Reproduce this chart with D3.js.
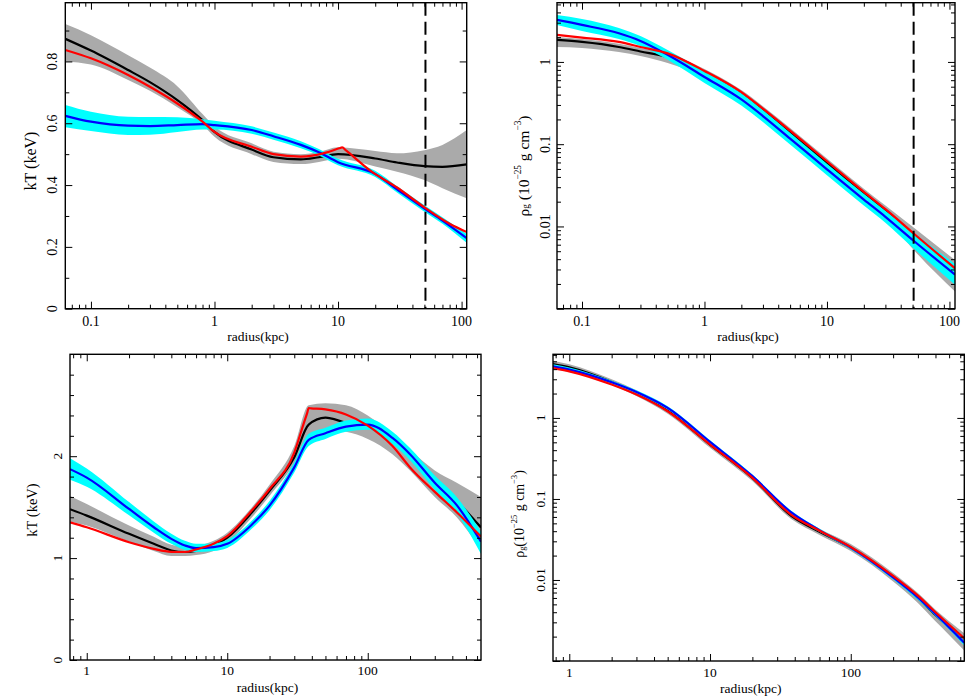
<!DOCTYPE html>
<html>
<head>
<meta charset="utf-8">
<script src="https://cdn.jsdelivr.net/npm/d3@7"></script>
<style>
  body { margin: 0; background: #fff; }
  svg, text { font-family: "Liberation Serif", "Times New Roman", "DejaVu Serif", serif; }
</style>
</head>
<body>
<svg id="chart" width="969" height="696"></svg>
<script>
const FONT = '"Liberation Serif", "Times New Roman", "DejaVu Serif", serif';

// ---- top left: kT vs radius ----
const tlR = [0.062, 0.1, 0.2, 0.3, 0.5, 0.8, 1, 2, 3, 5, 7, 10, 20, 30, 50, 70, 110];
const tlBlack = [0.873, 0.835, 0.772, 0.733, 0.675, 0.61, 0.572, 0.515, 0.49, 0.483, 0.49, 0.50, 0.486, 0.473, 0.461, 0.459, 0.467];
const tlBlackLo = [0.799, 0.79, 0.74, 0.705, 0.652, 0.595, 0.556, 0.50, 0.475, 0.468, 0.475, 0.485, 0.46, 0.443, 0.416, 0.39, 0.357];
const tlBlackHi = [0.921, 0.885, 0.82, 0.78, 0.72, 0.63, 0.59, 0.535, 0.508, 0.50, 0.507, 0.522, 0.51, 0.503, 0.513, 0.53, 0.578];
const tlBlue = [0.624, 0.605, 0.592, 0.591, 0.594, 0.597, 0.594, 0.578, 0.558, 0.53, 0.506, 0.474, 0.436, 0.386, 0.324, 0.285, 0.228];
const tlBlueLo = [0.587, 0.575, 0.562, 0.563, 0.572, 0.58, 0.58, 0.566, 0.547, 0.519, 0.496, 0.464, 0.426, 0.376, 0.314, 0.275, 0.213];
const tlBlueHi = [0.659, 0.637, 0.621, 0.62, 0.619, 0.613, 0.608, 0.59, 0.57, 0.542, 0.517, 0.485, 0.446, 0.396, 0.335, 0.296, 0.242];
const tlRedR = [0.062, 0.1, 0.2, 0.3, 0.5, 0.8, 1, 2, 3, 5, 8, 10.2, 10.8, 11.6, 18.5, 30, 50, 80, 110];
const tlRed = [0.837, 0.81, 0.756, 0.718, 0.664, 0.605, 0.572, 0.524, 0.5, 0.492, 0.505, 0.519, 0.522, 0.512, 0.445, 0.392, 0.328, 0.275, 0.248];

// ---- top right: gas density ----
const trR = [0.0625, 0.1, 0.2, 0.3, 0.5, 1, 2, 3, 5, 10, 20, 30, 51, 111];
const trBlack = [1.85, 1.75, 1.52, 1.34, 1.14, 0.735, 0.40, 0.255, 0.138, 0.059, 0.025, 0.0154, 0.0078, 0.0029];
const trBlackLo = [1.52, 1.48, 1.32, 1.18, 0.972, 0.657, 0.355, 0.226, 0.122, 0.052, 0.0218, 0.0133, 0.0052, 0.00162];
const trBlackHi = [2.01, 1.90, 1.66, 1.48, 1.25, 0.822, 0.455, 0.29, 0.157, 0.067, 0.0288, 0.0180, 0.0097, 0.0039];
const trBlue = [3.24, 2.82, 2.23, 1.80, 1.22, 0.657, 0.35, 0.22, 0.117, 0.0495, 0.0212, 0.0131, 0.0067, 0.0026];
const trBlueLo = [2.82, 2.38, 1.90, 1.56, 1.06, 0.556, 0.295, 0.186, 0.099, 0.042, 0.0180, 0.0111, 0.0054, 0.00195];
const trBlueHi = [3.72, 3.33, 2.59, 2.07, 1.40, 0.778, 0.415, 0.26, 0.138, 0.058, 0.0250, 0.0155, 0.0084, 0.0035];
const trRedR = trR;
const trRed = [2.13, 1.98, 1.75, 1.52, 1.27, 0.778, 0.43, 0.27, 0.146, 0.062, 0.0263, 0.0162, 0.0082, 0.0031];

// ---- bottom left: kT vs radius ----
const blR = [0.76, 1, 2, 3, 4, 5, 6, 8, 10, 15, 20, 30, 38, 50, 70, 100, 150, 200, 300, 430, 640];
const blBlack = [1.48, 1.417, 1.238, 1.14, 1.075, 1.06, 1.07, 1.12, 1.2, 1.45, 1.66, 1.99, 2.31, 2.378, 2.33, 2.30, 2.17, 2.02, 1.76, 1.56, 1.30];
const blBlackLo = [1.36, 1.32, 1.16, 1.07, 1.02, 1.02, 1.03, 1.07, 1.15, 1.40, 1.61, 1.93, 2.20, 2.26, 2.24, 2.17, 2.02, 1.86, 1.60, 1.40, 1.08];
const blBlackHi = [1.61, 1.53, 1.32, 1.21, 1.13, 1.11, 1.12, 1.17, 1.25, 1.50, 1.72, 2.10, 2.50, 2.52, 2.50, 2.40, 2.21, 2.06, 1.86, 1.74, 1.60];
const blBlue = [1.873, 1.79, 1.482, 1.303, 1.189, 1.124, 1.098, 1.107, 1.14, 1.33, 1.515, 1.89, 2.16, 2.225, 2.29, 2.31, 2.18, 2.02, 1.74, 1.52, 1.16];
const blBlueLo = [1.77, 1.70, 1.42, 1.25, 1.14, 1.08, 1.06, 1.07, 1.10, 1.29, 1.47, 1.84, 2.10, 2.17, 2.24, 2.26, 2.12, 1.96, 1.67, 1.44, 1.04];
const blBlueHi = [1.98, 1.88, 1.55, 1.36, 1.24, 1.17, 1.14, 1.145, 1.18, 1.37, 1.56, 1.94, 2.22, 2.28, 2.35, 2.37, 2.24, 2.08, 1.81, 1.60, 1.26];
const blRedR = [0.76, 1, 2, 3, 4, 5, 6, 8, 10, 15, 20, 30, 35, 37, 38, 39.5, 50, 70, 100, 150, 200, 300, 430, 640];
const blRed = [1.352, 1.303, 1.156, 1.091, 1.062, 1.06, 1.085, 1.14, 1.215, 1.47, 1.678, 2.036, 2.32, 2.42, 2.472, 2.47, 2.459, 2.41, 2.30, 2.10, 1.89, 1.65, 1.45, 1.21];

// ---- bottom right: gas density ----
const brR = [0.76, 1, 2, 3, 5, 10, 20, 38, 60, 100, 200, 300, 400, 500, 640];
const brBlack = [4.63, 4.21, 2.78, 2.03, 1.23, 0.469, 0.182, 0.0615, 0.0394, 0.025, 0.0108, 0.006, 0.0037, 0.0026, 0.00172];
const brBlackLo = [4.2, 3.85, 2.55, 1.87, 1.13, 0.43, 0.167, 0.056, 0.036, 0.0228, 0.0096, 0.0052, 0.0031, 0.0021, 0.00135];
const brBlackHi = [5.1, 4.6, 3.0, 2.2, 1.34, 0.51, 0.199, 0.068, 0.043, 0.0278, 0.0122, 0.0069, 0.0043, 0.0031, 0.0022];
const brBlue = [4.33, 3.94, 2.75, 2.09, 1.33, 0.506, 0.191, 0.0676, 0.041, 0.0252, 0.0108, 0.0061, 0.0038, 0.0026, 0.00168];
const brBlueLo = [4.05, 3.7, 2.62, 1.99, 1.27, 0.48, 0.182, 0.064, 0.039, 0.0240, 0.0102, 0.0057, 0.0036, 0.00245, 0.00155];
const brBlueHi = [4.6, 4.2, 2.88, 2.19, 1.39, 0.53, 0.2, 0.071, 0.043, 0.0264, 0.0114, 0.0065, 0.0040, 0.00275, 0.0018];
const brRedR = brR;
const brRed = [4.13, 3.76, 2.58, 1.94, 1.21, 0.469, 0.182, 0.0632, 0.0405, 0.0255, 0.0112, 0.0064, 0.0040, 0.0028, 0.0019];

// tick labels
const tlYTicks = [0, 0.2, 0.4, 0.6, 0.8];
const tlYMinor = [0.1, 0.3, 0.5, 0.7, 0.9];
const blYTicks = [0, 1, 2];
const blYMinor = [0.2, 0.4, 0.6, 0.8, 1.2, 1.4, 1.6, 1.8, 2.2, 2.4, 2.6, 2.8];
const rhoYTicks = [0.01, 0.1, 1];
const topXTicks = [0.1, 1, 10, 100];
const botXTicks = [1, 10, 100];
const cutRadius = 51;

const panels = [
  {left: 65.3, right: 466.7, top: 2.7, bottom: 308.7, xDomain: [0.062, 110], yDomain: [0, 0.99], yLog: false,
   r: tlR, black: tlBlack, blackLo: tlBlackLo, blackHi: tlBlackHi, blue: tlBlue, blueLo: tlBlueLo, blueHi: tlBlueHi,
   redR: tlRedR, red: tlRed, cut: cutRadius,
   yTicks: tlYTicks, yMinor: tlYMinor, xTicks: topXTicks, yTitle: 'kT', fs: 14, tfs: 16,
   yLabX: 52, yTitleX: 30, yTitleY: 161, xLabY: 321, xTitleY: 336},
  {left: 557, right: 955, top: 2.7, bottom: 308.7, xDomain: [0.0625, 111], yDomain: [0.001, 5.25], yLog: true,
   r: trR, black: trBlack, blackLo: trBlackLo, blackHi: trBlackHi, blue: trBlue, blueLo: trBlueLo, blueHi: trBlueHi,
   redR: trRedR, red: trRed, cut: cutRadius,
   yTicks: rhoYTicks, xTicks: topXTicks, yTitle: 'rho', rhoGap: ' ', fs: 14, tfs: 15.5,
   yLabX: 545, yTitleX: 523, yTitleY: 166, xLabY: 321, xTitleY: 336},
  {left: 70, right: 481, top: 354.3, bottom: 660, xDomain: [0.76, 640], yDomain: [0, 3], yLog: false,
   r: blR, black: blBlack, blackLo: blBlackLo, blackHi: blBlackHi, blue: blBlue, blueLo: blBlueLo, blueHi: blBlueHi,
   redR: blRedR, red: blRed,
   yTicks: blYTicks, yMinor: blYMinor, xTicks: botXTicks, yTitle: 'kT', fs: 13.5, tfs: 14.5,
   yLabX: 57, yTitleX: 32, yTitleY: 510, xLabY: 670, xTitleY: 687},
  {left: 553, right: 964.3, top: 354.3, bottom: 661, xDomain: [0.766, 641], yDomain: [0.001, 6.1], yLog: true,
   r: brR, black: brBlack, blackLo: brBlackLo, blackHi: brBlackHi, blue: brBlue, blueLo: brBlueLo, blueHi: brBlueHi,
   redR: brRedR, red: brRed,
   yTicks: rhoYTicks, xTicks: botXTicks, yTitle: 'rho', rhoGap: '', fs: 13.5, tfs: 14,
   yLabX: 540, yTitleX: 519, yTitleY: 514, xLabY: 672, xTitleY: 688}
];

const svg = d3.select('#chart');
const fmt = d => String(d);

function isPow10(t) {
  const l = Math.log10(t);
  return Math.abs(l - Math.round(l)) < 1e-9;
}

panels.forEach((p, idx) => {
  const x = d3.scaleLog().domain(p.xDomain).range([p.left, p.right]);
  const y = (p.yLog ? d3.scaleLog() : d3.scaleLinear()).domain(p.yDomain).range([p.bottom, p.top]);

  svg.append('clipPath').attr('id', 'clip' + idx)
    .append('rect')
      .attr('x', p.left).attr('y', p.top)
      .attr('width', p.right - p.left).attr('height', p.bottom - p.top);

  const g = svg.append('g').attr('clip-path', `url(#clip${idx})`);

  function band(lo, hi, color) {
    const area = d3.area()
      .x((d, i) => x(p.r[i]))
      .y0((d, i) => y(lo[i]))
      .y1((d, i) => y(hi[i]))
      .curve(d3.curveMonotoneX);
    g.append('path').datum(lo).attr('d', area).attr('fill', color);
  }
  function curve(rs, vs, color) {
    const line = d3.line()
      .x((d, i) => x(rs[i]))
      .y(d => y(d))
      .curve(d3.curveMonotoneX);
    g.append('path').datum(vs).attr('d', line)
      .attr('fill', 'none').attr('stroke', color)
      .attr('stroke-width', 2.2).attr('stroke-linejoin', 'round');
  }

  // grey band + black line sit under the cyan band
  band(p.blackLo, p.blackHi, '#aaaaaa');
  curve(p.r, p.black, '#000000');
  band(p.blueLo, p.blueHi, '#00ffff');
  curve(p.r, p.blue, '#0000ff');
  curve(p.redR, p.red, '#ff0000');

  if (p.cut) {
    g.append('line')
      .attr('x1', x(p.cut)).attr('x2', x(p.cut))
      .attr('y1', p.top).attr('y2', p.bottom)
      .attr('stroke', '#000').attr('stroke-width', 2)
      .attr('stroke-dasharray', '13,6');
  }

  // ticks, inward on all four sides
  const xAll = x.ticks();
  const xMajor = xAll.filter(isPow10);
  const xMinor = xAll.filter(t => !isPow10(t));
  let yMajor, yMinor;
  if (p.yLog) {
    const yAll = y.ticks();
    yMajor = yAll.filter(isPow10);
    yMinor = yAll.filter(t => !isPow10(t));
  } else {
    yMajor = p.yTicks;
    yMinor = p.yMinor;
  }

  const ax = svg.append('g');
  const addAxis = (axis, vals, size, tr) => {
    ax.append('g').attr('transform', tr)
      .call(axis.tickValues(vals).tickSize(-size).tickSizeOuter(0).tickFormat(''))
      .call(s => s.select('.domain').remove())
      .call(s => s.selectAll('line').attr('stroke-width', 1));
  };
  addAxis(d3.axisBottom(x), xMajor, 7, `translate(0,${p.bottom})`);
  addAxis(d3.axisBottom(x), xMinor, 4, `translate(0,${p.bottom})`);
  addAxis(d3.axisTop(x), xMajor, 7, `translate(0,${p.top})`);
  addAxis(d3.axisTop(x), xMinor, 4, `translate(0,${p.top})`);
  addAxis(d3.axisLeft(y), yMajor, 7, `translate(${p.left},0)`);
  addAxis(d3.axisLeft(y), yMinor, 4, `translate(${p.left},0)`);
  addAxis(d3.axisRight(y), yMajor, 7, `translate(${p.right},0)`);
  addAxis(d3.axisRight(y), yMinor, 4, `translate(${p.right},0)`);

  svg.append('rect')
    .attr('x', p.left).attr('y', p.top)
    .attr('width', p.right - p.left).attr('height', p.bottom - p.top)
    .attr('fill', 'none').attr('stroke', '#000').attr('stroke-width', 1.4);

  // x tick labels
  svg.append('g').selectAll('text').data(p.xTicks).join('text')
    .attr('x', d => x(d)).attr('y', p.xLabY)
    .attr('text-anchor', 'middle').attr('dominant-baseline', 'central')
    .attr('font-family', FONT).attr('font-size', p.fs).text(fmt);

  // y tick labels, rotated
  svg.append('g').selectAll('text').data(p.yTicks).join('text')
    .attr('transform', d => `translate(${p.yLabX},${y(d)}) rotate(-90)`)
    .attr('text-anchor', 'middle').attr('dominant-baseline', 'central')
    .attr('font-family', FONT).attr('font-size', p.fs).text(fmt);

  // axis titles
  svg.append('text')
    .attr('x', (p.left + p.right) / 2 - 8).attr('y', p.xTitleY)
    .attr('text-anchor', 'middle').attr('dominant-baseline', 'central')
    .attr('font-family', FONT).attr('font-size', 13.5).text('radius(kpc)');

  const yt = svg.append('text')
    .attr('transform', `translate(${p.yTitleX},${p.yTitleY}) rotate(-90)`)
    .attr('text-anchor', 'middle').attr('dominant-baseline', 'central')
    .attr('font-family', FONT).attr('font-size', p.tfs);
  if (p.yTitle === 'kT') {
    yt.text('kT (keV)');
  } else {
    const small = p.tfs * 0.6;
    yt.append('tspan').text('ρ');
    yt.append('tspan').attr('font-size', small).attr('dy', 3).text('g');
    yt.append('tspan').attr('dy', -3).text(p.rhoGap + '(10');
    yt.append('tspan').attr('font-size', small).attr('dy', -5).text('−25');
    yt.append('tspan').attr('dy', 5).text(' g cm');
    yt.append('tspan').attr('font-size', small).attr('dy', -5).text('−3');
    yt.append('tspan').attr('dy', 5).text(')');
  }
});
</script>
</body>
</html>
